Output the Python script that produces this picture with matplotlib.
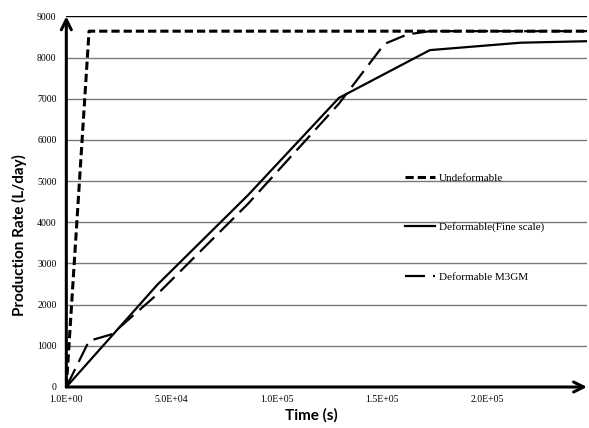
import numpy as np
import matplotlib.pyplot as plt

# time in seconds
t_undef = [1, 10800, 259200]
q_undef = [0, 8640, 8640]

t_fine = [1, 43200, 86400, 129600, 172800, 216000, 259200]
q_fine = [0, 2480, 4660, 7020, 8180, 8360, 8410]

t_m3gm = [1, 10800, 21600, 43200, 86400, 129600, 151200, 162000, 172800, 259200]
q_m3gm = [0, 1120, 1280, 2250, 4450, 6880, 8330, 8560, 8640, 8640]

yticks = [0, 1000, 2000, 3000, 4000, 5000, 6000, 7000, 8000, 9000]
xticks = [1, 50000, 100000, 150000, 200000]
xticklabels = ["1.0E+00", "5.0E+04", "1.0E+05", "1.5E+05", "2.0E+05"]

fig = plt.figure(figsize=(5.89, 4.28), dpi=100)
ax = fig.add_axes([0.1126, 0.0958, 0.884, 0.866])

ax.plot(t_undef, q_undef, color="k", lw=2.2, dashes=(2.7, 1.3), label="Undeformable")
ax.plot(t_fine, q_fine, color="k", lw=1.6, label="Deformable(Fine scale)")
ax.plot(t_m3gm, q_m3gm, color="k", lw=1.6, dashes=(9, 3.6), label="Deformable M3GM")

ax.set_xlim(0, 247500)
ax.set_ylim(0, 9000)

for s in ax.spines.values():
    s.set_visible(False)

for y in yticks[1:-1]:
    ax.axhline(y, color="#7a7a7a", lw=1, zorder=0)
ax.axhline(9000, color="k", lw=1, zorder=0)

# axis arrows
ax.annotate("", xy=(0, 9000), xytext=(0, 0),
            arrowprops=dict(arrowstyle="->", lw=2.2, color="k", mutation_scale=18,
                            shrinkA=0, shrinkB=0), annotation_clip=False)
ax.annotate("", xy=(247500, 0), xytext=(0, 0),
            arrowprops=dict(arrowstyle="->", lw=2.2, color="k", mutation_scale=18,
                            shrinkA=0, shrinkB=0), annotation_clip=False)

ax.set_yticks(yticks)
ax.set_yticklabels([str(v) for v in yticks], family="Liberation Serif", fontsize=7)
ax.set_xticks(xticks)
ax.set_xticklabels(xticklabels, family="Liberation Serif", fontsize=7)
ax.tick_params(length=0)
ax.tick_params(axis="y", pad=7)
ax.tick_params(axis="x", pad=6)

ax.set_xlabel("Time (s)", family="Lato", fontweight="bold", fontsize=11)
ax.set_ylabel("Production Rate (L/day)", family="Lato", fontweight="bold", fontsize=11)
ax.xaxis.set_label_coords(0.471, -0.056)
ax.yaxis.set_label_coords(-0.075, 0.41)

leg = ax.legend(loc="upper left", bbox_to_anchor=(0.65, 0.577), frameon=False,
                prop={"family": "Liberation Serif", "size": 8},
                handlelength=2.7, handletextpad=0.4, labelspacing=3.55,
                borderpad=0, borderaxespad=0)

fig.savefig("out.png", dpi=100)
